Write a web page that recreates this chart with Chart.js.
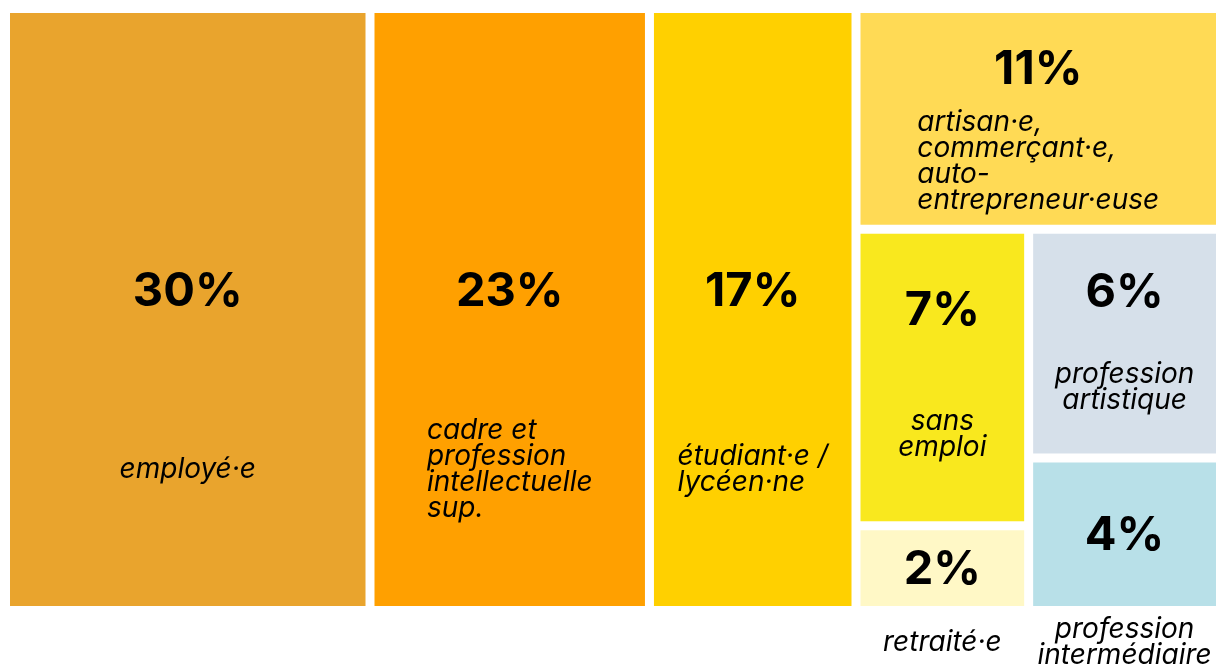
<!DOCTYPE html>
<html lang="fr">
<head>
<meta charset="utf-8">
<title>Catégories socioprofessionnelles</title>
<script src="https://cdn.jsdelivr.net/npm/chart.js@4.4.1/dist/chart.umd.min.js"></script>
<style>
  html, body { margin: 0; padding: 0; background: #fff; }
  #wrap { width: 1221px; height: 664px; position: relative; }
</style>
</head>
<body>
<div id="wrap"><canvas id="treemap"></canvas></div>
<script>
// Données (en %)
const categories = [
  'employé·e',
  'cadre et profession intellectuelle sup.',
  'étudiant·e / lycéen·ne',
  'artisan·e, commerçant·e, auto-entrepreneur·euse',
  'sans emploi',
  'retraité·e',
  'profession artistique',
  'profession intermédiaire'
];
const labelLines = [
  ['employé·e'],
  ['cadre et', 'profession', 'intellectuelle', 'sup.'],
  ['étudiant·e /', 'lycéen·ne'],
  ['artisan·e,', 'commerçant·e,', 'auto-', 'entrepreneur·euse'],
  ['sans', 'emploi'],
  ['retraité·e'],
  ['profession', 'artistique'],
  ['profession', 'intermédiaire']
];
const values = [30, 23, 17, 11, 7, 2, 6, 4];

// Imbrication du découpage : colonnes -> lignes -> colonnes -> lignes
const nesting = [0, 1, 2, [3, [[4, 5], [6, 7]]]];

const colors = ['#E9A42D', '#FFA000', '#FFD000', '#FFDA55', '#F9E81E', '#FFF8C6', '#D6E0EA', '#B8E0E8'];
const leftAligned = [1, 2, 3];

const GAP = 9;
const FONT = 'Inter, "Noto Sans", sans-serif';
const LABEL_FONT = 'italic 400 28px ' + FONT;
const NUMBER_FONT = 'bold 47px ' + FONT;

function nodeSum(node) {
  return Array.isArray(node) ? node.reduce((s, n) => s + nodeSum(n), 0) : values[node];
}

// Slice-and-dice : chaque niveau alterne le sens de découpe
function sliceLayout(node, x0, y0, x1, y1, horizontal, out) {
  if (!Array.isArray(node)) {
    out[node] = { x0, y0, x1, y1 };
    return out;
  }
  const total = nodeSum(node);
  let pos = horizontal ? x0 : y0;
  node.forEach(child => {
    const share = nodeSum(child) / total * (horizontal ? x1 - x0 : y1 - y0);
    if (horizontal) sliceLayout(child, pos, y0, pos + share, y1, false, out);
    else sliceLayout(child, x0, pos, x1, pos + share, true, out);
    pos += share;
  });
  return out;
}

const cells = sliceLayout(nesting, 0, 0, 100, 100, true, []);

function drawLines(ctx, lines, x, cy, lineH, align, blockW) {
  const top = cy - lines.length * lineH / 2 + lineH / 2;
  ctx.textAlign = align === 'left' ? 'left' : 'center';
  const lx = align === 'left' ? x - blockW / 2 : x;
  lines.forEach((l, i) => ctx.fillText(l, lx, top + i * lineH));
}

const treemapPlugin = {
  id: 'treemapCells',
  beforeDatasetsDraw(chart) {
    const { ctx, scales: { x, y }, chartArea } = chart;
    const half = GAP / 2;
    ctx.save();
    cells.forEach((c, i) => {
      const left = x.getPixelForValue(c.x0) + half;
      const right = x.getPixelForValue(c.x1) - half;
      const top = y.getPixelForValue(c.y0) + half;
      const bottom = y.getPixelForValue(c.y1) - half;
      const w = right - left, h = bottom - top;
      const cx = (left + right) / 2;

      ctx.fillStyle = colors[i];
      ctx.fillRect(left, top, w, h);

      ctx.fillStyle = '#000';
      ctx.textBaseline = 'middle';
      const numberText = values[i] + '%';
      const lines = labelLines[i];
      const lineH = 26;

      ctx.font = LABEL_FONT;
      const blockW = Math.max(...lines.map(l => ctx.measureText(l).width));
      const align = leftAligned.includes(i) ? 'left' : 'center';

      ctx.font = NUMBER_FONT;
      ctx.textAlign = 'center';
      if (values[i] < 5) {
        // petite case : le libellé passe sous le graphique
        ctx.fillText(numberText, cx, top + h / 2 + 2);
        ctx.font = LABEL_FONT;
        drawLines(ctx, lines, cx, chartArea.bottom + 32, lineH, 'center', blockW);
      } else {
        const tall = h > 450;
        ctx.fillText(numberText, cx, top + h * (tall ? 0.47 : 0.27));
        ctx.font = LABEL_FONT;
        drawLines(ctx, lines, cx, top + h * (tall ? 0.77 : 0.7), lineH, align, blockW);
      }
    });
    ctx.restore();
  }
};

function render() {
  new Chart(document.getElementById('treemap'), {
    type: 'scatter',
    data: {
      datasets: [{
        label: 'Répartition',
        data: cells.map((c, i) => ({ x: (c.x0 + c.x1) / 2, y: (c.y0 + c.y1) / 2, v: values[i] })),
        pointRadius: 0,
        pointHoverRadius: 0
      }]
    },
    options: {
      responsive: true,
      maintainAspectRatio: false,
      animation: false,
      layout: { padding: { left: 5.5, right: 0.5, top: 8.5, bottom: 53.5 } },
      plugins: { legend: { display: false }, tooltip: { enabled: false } },
      scales: {
        x: { type: 'linear', min: 0, max: 100, display: false },
        y: { type: 'linear', min: 0, max: 100, reverse: true, display: false }
      }
    },
    plugins: [treemapPlugin]
  });
}

Promise.all([
  document.fonts.load(NUMBER_FONT),
  document.fonts.load(LABEL_FONT)
]).then(render, render);
</script>
</body>
</html>
